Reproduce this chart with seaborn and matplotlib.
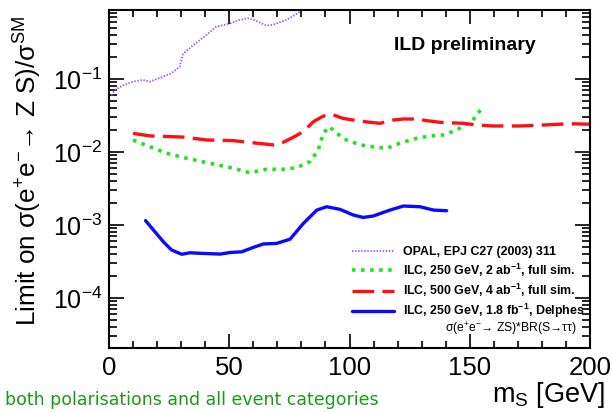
import matplotlib
matplotlib.use("Agg")
import matplotlib.pyplot as plt
import seaborn as sns
import numpy as np
import pandas as pd
from matplotlib.ticker import FixedLocator, NullFormatter, LogLocator

# ---------------- data ----------------
opal_x = [1, 2.5, 6, 10, 14, 17, 21, 26, 29.4, 30.8, 35, 40.5, 44.6, 50, 54, 57.7, 61, 65.3, 68, 73.6, 78.4, 79.5]
opal_y = [0.060, 0.071, 0.082, 0.092, 0.097, 0.092, 0.103, 0.12, 0.147, 0.22, 0.29, 0.40, 0.52, 0.57, 0.64, 0.68, 0.63, 0.54, 0.55, 0.64, 0.79, 0.84]

ilc250_x = [10, 17, 24, 32.3, 42, 51.7, 58.6, 65.6, 72.5, 78, 83.6, 87, 89.1, 91.6, 94.7, 98.8, 104.4, 111.3, 115.5,
            121, 127.9, 133.5, 139, 144.6, 147.3, 150.8, 152.9, 155.3]
ilc250_y = [0.0146, 0.0118, 0.0096, 0.0082, 0.0070, 0.0060, 0.0052, 0.0058, 0.0058, 0.0061, 0.0074, 0.0106, 0.018,
            0.0222, 0.018, 0.0146, 0.0125, 0.0116, 0.0112, 0.0132, 0.0154, 0.0166, 0.0171, 0.020, 0.0227, 0.026,
            0.032, 0.041]

ilc500_x = [10, 17, 30.9, 40.6, 51.7, 61.4, 68.3, 72.5, 76.6, 80.8, 85, 89.1, 92.6, 97.4, 103, 108.5, 112.7, 118.2,
            122.4, 128, 132, 137.6, 143.2, 147.3, 152.9, 159.8, 170.9, 180.6, 191.7, 200]
ilc500_y = [0.018, 0.0166, 0.016, 0.0146, 0.0143, 0.0132, 0.0125, 0.0136, 0.0159, 0.019, 0.026, 0.031, 0.0328,
            0.0288, 0.0269, 0.0255, 0.0247, 0.0274, 0.0283, 0.0283, 0.0269, 0.0255, 0.025, 0.0247, 0.0234, 0.0227,
            0.0227, 0.0234, 0.0244, 0.024]

delphes_x = [15.2, 18.4, 22.6, 26, 30.2, 33.7, 37.8, 46.2, 50.3, 55.2, 60, 64.2, 69.7, 75.3, 80.8, 86.4, 90.5, 96,
             101.6, 105.7, 109.9, 116.8, 122.4, 129.3, 135, 140.4]
delphes_y = [0.00115, 0.00086, 0.00059, 0.000455, 0.000398, 0.000417, 0.00041, 0.0004, 0.00042, 0.00043, 0.000494,
             0.00055, 0.00056, 0.00064, 0.00105, 0.0016, 0.00178, 0.00164, 0.00137, 0.00127, 0.00133, 0.0016,
             0.00182, 0.00178, 0.0016, 0.00157]

labels = ["OPAL, EPJ C27 (2003) 311",
          r"ILC, 250 GeV, 2 ab$^{\mathbf{-1}}$, full sim.",
          r"ILC, 500 GeV, 4 ab$^{\mathbf{-1}}$, full sim.",
          r"ILC, 250 GeV, 1.8 fb$^{\mathbf{-1}}$, Delphes"]

x_ticks = [0, 50, 100, 150, 200]
y_ticks = [1e-4, 1e-3, 1e-2, 1e-1]
y_ticklabels = [r"$10^{-4}$", r"$10^{-3}$", r"$10^{-2}$", r"$10^{-1}$"]

# ---------------- style ----------------
sns.set_style("ticks")
plt.rcParams["font.family"] = ["Liberation Sans", "DejaVu Sans"]
plt.rcParams["mathtext.fontset"] = "custom"
plt.rcParams["mathtext.rm"] = "Liberation Sans"
plt.rcParams["mathtext.it"] = "Liberation Sans:italic"
plt.rcParams["mathtext.bf"] = "Liberation Sans:bold"
plt.rcParams["mathtext.sf"] = "Liberation Sans"
for k in ["text.color", "axes.labelcolor", "xtick.color", "ytick.color", "axes.edgecolor"]:
    plt.rcParams[k] = "black"

fig = plt.figure(figsize=(6.12, 4.12), dpi=100)
ax = fig.add_axes([109 / 612, 1 - 348 / 412, (590 - 109) / 612, (348 - 10) / 412])

purple = "#9b55f5"
green = "#1ee61e"
red = "#ff1010"
blue = "#0a0aff"

sns.lineplot(x=opal_x, y=opal_y, ax=ax, color=purple, linewidth=1.3, linestyle=(0, (0.8, 0.9)), label=labels[0])
sns.lineplot(x=ilc250_x, y=ilc250_y, ax=ax, color=green, linewidth=2.6, linestyle=(0, (1.0, 1.5)), label=labels[1])
sns.lineplot(x=ilc500_x, y=ilc500_y, ax=ax, color=red, linewidth=2.4, linestyle=(0, (6.5, 2.5)), label=labels[2])
sns.lineplot(x=delphes_x, y=delphes_y, ax=ax, color=blue, linewidth=2.4, linestyle="-", label=labels[3])

ax.set_yscale("log")
ax.set_xlim(0, 200)
ax.set_ylim(2.07e-5, 0.88)

ax.xaxis.set_major_locator(FixedLocator(x_ticks))
ax.xaxis.set_minor_locator(FixedLocator(np.arange(0, 201, 10)))
ax.set_xticklabels([str(t) for t in x_ticks])
ax.yaxis.set_major_locator(FixedLocator(y_ticks))
ax.set_yticklabels(y_ticklabels)
ax.yaxis.set_minor_locator(LogLocator(base=10, subs=np.arange(2, 10), numticks=20))
ax.yaxis.set_minor_formatter(NullFormatter())

ax.tick_params(which="both", direction="in", top=True, right=True, colors="black", width=1.2)
ax.tick_params(which="major", length=11, labelsize=18, pad=5)
ax.tick_params(which="minor", length=6)
ax.tick_params(axis="x", which="major", length=10, pad=6, labelsize=18.5)
ax.tick_params(axis="x", which="minor", length=5)
for sp in ax.spines.values():
    sp.set_visible(True)
    sp.set_linewidth(1.5)
    sp.set_color("black")

ax.set_xlabel("")
ax.set_ylabel("Limit on σ(e$^{+}$e$^{-}$→ Z S)/σ$^{\\mathrm{SM}}$", fontsize=18.8)
ax.yaxis.set_label_coords(-0.135, 0.524)

fig.text(605 / 612, 1 - 395 / 412, r"m$_{\mathrm{S}}$ [GeV]", fontsize=19.5, ha="right", va="center")

ax.text((465 - 109) / 481, (348 - 45) / 338, "ILD preliminary", transform=ax.transAxes, fontsize=14,
        fontweight="bold", ha="center", va="center")

leg = ax.legend(loc="upper left", bbox_to_anchor=((345 - 109) / 481, (348 - 239) / 338), frameon=False,
                fontsize=8.9, handlelength=3.4, handletextpad=0.7, labelspacing=0.25, borderpad=0.1)
for t in leg.get_texts():
    t.set_fontweight("bold")

ax.text((577 - 109) / 481, (348 - 329) / 338, "σ(e$^{+}$e$^{-}$→ ZS)*BR(S→ττ)",
        transform=ax.transAxes, fontsize=8.7, ha="right", va="center")

fig.text(5 / 612, 1 - 400 / 412, "both polarisations and all event categories", fontsize=12.5, color="#1a9a1a",
         family=["DejaVu Sans"], ha="left", va="center")

fig.savefig("out.png", dpi=100)
